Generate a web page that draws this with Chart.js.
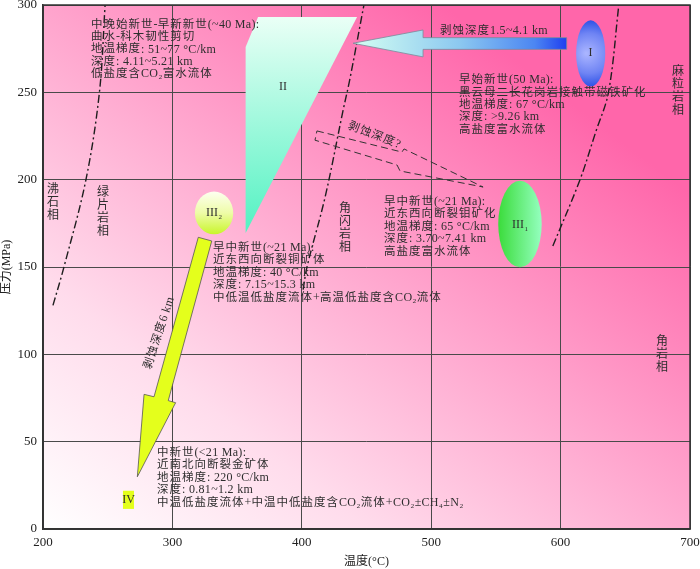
<!DOCTYPE html>
<html>
<head>
<meta charset="utf-8">
<script src="https://cdn.jsdelivr.net/npm/chart.js@4.4.1/dist/chart.umd.min.js"></script>
<style>
  html, body { margin: 0; padding: 0; background: #fff; }
</style>
</head>
<body>
<canvas id="ptChart" width="700" height="569"></canvas>
<script>
// 軸刻度
const tempTicks = [200, 300, 400, 500, 600, 700];
const pressTicks = [0, 50, 100, 150, 200, 250, 300];

// 相界線 (温度 °C, 压力 MPa)
const faciesLine1 = [[207.7, 128], [216.2, 150], [233.2, 200], [243.6, 250], [248, 300]];
const faciesLine2 = [[401, 137], [404, 150], [418, 190], [432, 240], [437, 257], [448, 300]];
const faciesLine3 = [[594, 162], [615, 200], [627, 227], [637, 250], [645, 300]];

// 成矿阶段范围 [Tmin, Tmax, Pmin, Pmax]
const zoneI = [612, 634.5, 253.4, 291.2];
const zoneIII1 = [551.8, 585.4, 149.8, 199.4];
const zoneIII2 = [317.4, 347, 168.7, 193.2];
const zoneIV = [261.8, 270.3, 11.5, 21.9];
const zoneII = [[366.2, 293.1], [442.7, 293.1], [356.6, 169.5], [356.6, 276]];

// 剥蚀路径
const arrowBlue = [[439.6, 278.1], [493.7, 285.7], [493.7, 281.3], [604.7, 281.3], [604.7, 274.6], [493.7, 274.6], [493.7, 270.3]];
const arrowYellow = [[320.0, 167.0], [330.4, 164.9], [296.8, 73.5], [302.5, 72.3], [272.9, 29.9], [278.1, 77.1], [285.8, 75.7]];
const arrowDashed = [[411.7, 227.9], [477.4, 215.8], [479.0, 217.6], [540.1, 195.8], [475.9, 205.0], [473.6, 208.4], [410.2, 222.6]];

// 文字
const noteII = ['中晚始新世-早新新世(~40 Ma):', '曲水-科木韧性剪切', '地温梯度: 51~77 °C/km', '深度: 4.11~5.21 km', '低盐度含CO₂富水流体'];
const noteI = ['早始新世(50 Ma):', '黑云母二长花岗岩接触带磁铁矿化', '地温梯度: 67 °C/km', '深度: >9.26 km', '高盐度富水流体'];
const noteIII1 = ['早中新世(~21 Ma):', '近东西向断裂钼矿化', '地温梯度: 65 °C/km', '深度: 3.70~7.41 km', '高盐度富水流体'];
const noteIII2 = ['早中新世(~21 Ma):', '近东西向断裂铜矿体', '地温梯度: 40 °C/km', '深度: 7.15~15.3 km', '中低温低盐度流体+高温低盐度含CO₂流体'];
const noteIV = ['中新世(<21 Ma):', '近南北向断裂金矿体', '地温梯度: 220 °C/km', '深度: 0.81~1.2 km', '中温低盐度流体+中温中低盐度含CO₂流体+CO₂±CH₄±N₂'];
const faciesNames = ['沸石相', '绿片岩相', '角闪岩相', '麻粒岩相', '角岩相'];

const FONT = '"Liberation Serif", "Noto Sans CJK SC", serif';
const CJK = /[\u3000-\u9fff\uff00-\uffef]/;

const toXY = arr => arr.map(([x, y]) => ({ x, y }));

// 中文字距大啲, 英文字距細啲
function spacedText(ctx, s, x, y) {
    const runs = s.match(/[\u3000-\u9fff\uff00-\uffef]+|[^\u3000-\u9fff\uff00-\uffef]+/g) || [];
    runs.forEach(r => {
        if (CJK.test(r)) {
            ctx.font = '11.5px ' + FONT;
            ctx.letterSpacing = '1px';
        } else {
            ctx.font = '12px ' + FONT;
            ctx.letterSpacing = '0.3px';
        }
        ctx.fillText(r, x, y);
        x += ctx.measureText(r).width;
    });
    ctx.letterSpacing = '0px';
}

const drawPlugin = {
    id: 'ptDiagram',
    beforeDraw(chart) {
        const { ctx, chartArea: a } = chart;
        ctx.save();
        ctx.fillStyle = '#fff';
        ctx.fillRect(0, 0, chart.width, chart.height);
        // 背景漸變 (左下白 -> 右上粉紅)
        const g = ctx.createLinearGradient(a.left, a.bottom, a.left + 400, a.top);
        g.addColorStop(0, '#ffffff');
        g.addColorStop(0.3, '#ffdcec');
        g.addColorStop(0.62, '#ffa6ce');
        g.addColorStop(1, '#ff66aa');
        ctx.fillStyle = g;
        ctx.fillRect(a.left, a.top, a.right - a.left, a.bottom - a.top);
        ctx.restore();
    },
    afterDatasetsDraw(chart) {
        const { ctx, chartArea: a } = chart;
        const X = t => chart.scales.x.getPixelForValue(t);
        const Y = p => chart.scales.y.getPixelForValue(p);
        const path = pts => {
            ctx.beginPath();
            pts.forEach(([t, p], i) => i ? ctx.lineTo(X(t), Y(p)) : ctx.moveTo(X(t), Y(p)));
            ctx.closePath();
        };
        const ell = r => {
            const x0 = X(r[0]), x1 = X(r[1]), y0 = Y(r[3]), y1 = Y(r[2]);
            const e = { cx: (x0 + x1) / 2, cy: (y0 + y1) / 2, rx: (x1 - x0) / 2, ry: (y1 - y0) / 2 };
            ctx.beginPath();
            ctx.ellipse(e.cx, e.cy, e.rx, e.ry, 0, 0, Math.PI * 2);
            return e;
        };

        ctx.save();

        // II 三角
        const yTop = Y(zoneII[0][1]), yBot = Y(zoneII[2][1]);
        let g = ctx.createLinearGradient(0, yTop, 0, yBot);
        g.addColorStop(0, '#eafff6');
        g.addColorStop(1, '#52f2c2');
        path(zoneII);
        ctx.fillStyle = g;
        ctx.fill();

        // 藍色箭頭
        g = ctx.createLinearGradient(X(arrowBlue[0][0]), 0, X(arrowBlue[3][0]), 0);
        g.addColorStop(0, '#d4fff2');
        g.addColorStop(0.5, '#8cc8f0');
        g.addColorStop(0.85, '#4c86f2');
        g.addColorStop(1, '#1f3ff0');
        path(arrowBlue);
        ctx.fillStyle = g;
        ctx.fill();
        ctx.strokeStyle = '#7a8a9a';
        ctx.lineWidth = 0.8;
        ctx.stroke();

        // 黃色箭頭
        path(arrowYellow);
        ctx.fillStyle = '#e4ff1c';
        ctx.fill();
        ctx.strokeStyle = '#555';
        ctx.lineWidth = 0.8;
        ctx.stroke();

        // 虛線箭頭
        path(arrowDashed);
        ctx.setLineDash([7, 4]);
        ctx.strokeStyle = '#333';
        ctx.lineWidth = 1;
        ctx.stroke();
        ctx.setLineDash([]);

        // I 橢圓
        let e = ell(zoneI);
        g = ctx.createRadialGradient(e.cx - e.rx * 0.3, e.cy, 1, e.cx, e.cy, e.ry);
        g.addColorStop(0, '#a9b4ff');
        g.addColorStop(0.6, '#6f84f4');
        g.addColorStop(1, '#2f52e6');
        ctx.fillStyle = g;
        ctx.fill();

        // III1 橢圓
        e = ell(zoneIII1);
        g = ctx.createLinearGradient(e.cx - e.rx, 0, e.cx + e.rx, 0);
        g.addColorStop(0, '#3bdc3b');
        g.addColorStop(1, '#94ffbf');
        ctx.fillStyle = g;
        ctx.fill();

        // III2 圓
        e = ell(zoneIII2);
        g = ctx.createLinearGradient(0, e.cy - e.ry, 0, e.cy + e.ry);
        g.addColorStop(0, '#fdfff0');
        g.addColorStop(0.5, '#eefca8');
        g.addColorStop(1, '#c8f52a');
        ctx.fillStyle = g;
        ctx.fill();

        // IV 方塊
        ctx.fillStyle = '#e4ff1c';
        ctx.fillRect(X(zoneIV[0]), Y(zoneIV[3]), X(zoneIV[1]) - X(zoneIV[0]), Y(zoneIV[2]) - Y(zoneIV[3]));

        // 文字
        ctx.fillStyle = '#2e2e2e';
        ctx.textBaseline = 'middle';
        ctx.textAlign = 'left';
        const block = (lines, t, p) => {
            lines.forEach((s, i) => spacedText(ctx, s, X(t), Y(p) + i * 12.4));
        };
        block(noteII, 237.1, 288.8);
        block(noteI, 521.5, 257);
        block(noteIII1, 463.5, 187.2);
        block(noteIII2, 331.4, 160.9);
        block(noteIV, 288.1, 43.5);

        spacedText(ctx, '剥蚀深度1.5~4.1 km', X(506.8), Y(285.1));

        const rot = (s, t, p, deg) => {
            ctx.save();
            ctx.translate(X(t), Y(p));
            ctx.rotate(deg * Math.PI / 180);
            ctx.font = '11.5px ' + FONT;
            ctx.letterSpacing = '0.5px';
            const w = ctx.measureText(s).width;
            ctx.letterSpacing = '0px';
            spacedText(ctx, s, -w / 2, 0);
            ctx.restore();
        };
        rot('剥蚀深度?', 455.3, 225.6, 21);
        rot('剥蚀深度6 km', 289.6, 111.6, -72);

        // 相名 (直排)
        ctx.textAlign = 'center';
        ctx.letterSpacing = '0px';
        ctx.font = '12px ' + FONT;
        const vert = (s, t, p) => {
            [...s].forEach((c, i) => ctx.fillText(c, X(t), Y(p) + i * 13));
        };
        vert(faciesNames[0], 207.7, 194.1);
        vert(faciesNames[1], 246.4, 192.4);
        vert(faciesNames[2], 433.4, 183.2);
        vert(faciesNames[3], 690.7, 261.6);
        vert(faciesNames[4], 678.4, 107.1);

        // 分區編號
        const tag = (main, sub, t, p) => {
            ctx.font = '12px ' + FONT;
            const w = ctx.measureText(main).width;
            const sw = sub ? 4 : 0;
            const x0 = X(t) - (w + sw) / 2, y0 = Y(p);
            ctx.textAlign = 'left';
            ctx.fillText(main, x0, y0);
            if (sub) {
                ctx.font = '7px ' + FONT;
                ctx.fillText(sub, x0 + w + 0.5, y0 + 4);
            }
        };
        tag('I', '', 623.2, 272.5);
        tag('II', '', 385.5, 253);
        tag('III', '1', 568.6, 174);
        tag('III', '2', 332.1, 181);
        tag('IV', '', 266.1, 16.6);

        // 外框
        ctx.strokeStyle = '#333';
        ctx.lineWidth = 1.5;
        ctx.strokeRect(a.left, a.top, a.right - a.left, a.bottom - a.top);
        ctx.restore();
    }
};

const lineStyle = {
    showLine: true,
    borderColor: '#1e1e1e',
    borderWidth: 1.4,
    borderDash: [8, 3, 2, 3],
    pointRadius: 0,
    tension: 0.35,
    fill: false
};

new Chart(document.getElementById('ptChart').getContext('2d'), {
    type: 'scatter',
    data: {
        datasets: [
            { ...lineStyle, data: toXY(faciesLine1) },
            { ...lineStyle, data: toXY(faciesLine2) },
            { ...lineStyle, data: toXY(faciesLine3) }
        ]
    },
    options: {
        responsive: false,
        animation: false,
        layout: { padding: { top: 5, right: 10, left: 0, bottom: 0 } },
        plugins: { legend: { display: false }, tooltip: { enabled: false } },
        scales: {
            x: {
                type: 'linear', min: 200, max: 700,
                afterBuildTicks: s => { s.ticks = tempTicks.map(v => ({ value: v })); },
                afterFit: s => { s.height = 40; s.paddingLeft = 0; s.paddingRight = 0; },
                grid: { color: '#4a4a4a', lineWidth: 1, drawTicks: false },
                border: { color: '#333', width: 1.5 },
                ticks: { color: '#222', padding: 6, font: { family: FONT, size: 13 } },
                title: { display: true, text: '温度(°C)', color: '#222', padding: { top: 2, bottom: 0 }, font: { family: FONT, size: 12 } }
            },
            y: {
                type: 'linear', min: 0, max: 300,
                afterBuildTicks: s => { s.ticks = pressTicks.map(v => ({ value: v })); },
                afterFit: s => { s.width = 43; s.paddingTop = 0; s.paddingBottom = 0; },
                grid: { color: '#4a4a4a', lineWidth: 1, drawTicks: false },
                border: { color: '#333', width: 1.5 },
                ticks: { color: '#222', padding: 6, font: { family: FONT, size: 13 } },
                title: { display: true, text: '压力(MPa)', color: '#222', padding: { top: 0, bottom: 4 }, font: { family: FONT, size: 12 } }
            }
        }
    },
    plugins: [drawPlugin]
});
</script>
</body>
</html>
